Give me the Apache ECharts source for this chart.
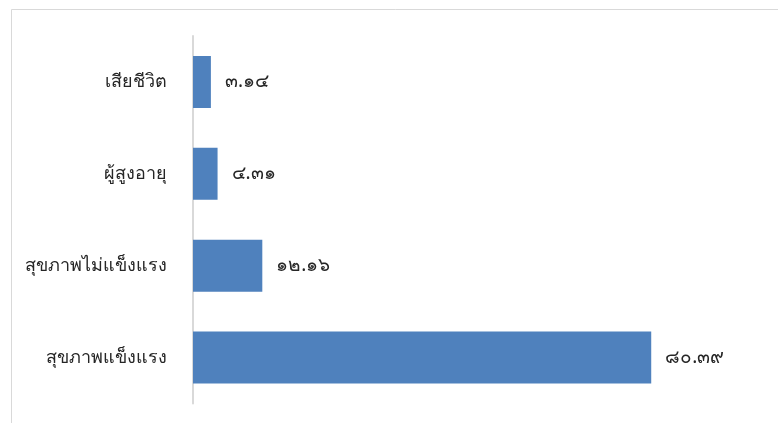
<!DOCTYPE html>
<html><head><meta charset="utf-8">
<script src="https://cdn.jsdelivr.net/npm/echarts@6/dist/echarts.min.js"></script>
<style>html,body{margin:0;padding:0;background:#fff}#c{width:778px;height:423px}</style>
</head><body><div id="c"></div>
<script>
const categories = ['เสียชีวิต', 'ผู้สูงอายุ', 'สุขภาพไม่แข็งแรง', 'สุขภาพแข็งแรง'];
const values = [3.14, 4.31, 12.16, 80.39];
const axisMax = 90;

const thaiDigits = ['๐','๑','๒','๓','๔','๕','๖','๗','๘','๙'];
function toThai(v){ return v.toFixed(2).replace(/[0-9]/g, d => thaiDigits[+d]); }

const chart = echarts.init(document.getElementById('c'));
chart.setOption({
  animation: false,
  backgroundColor: '#fff',
  textStyle: { fontFamily: 'Noto Sans, sans-serif' },
  graphic: [{
    type: 'rect', shape: { x: 11.5, y: 9.5, width: 800, height: 500 },
    style: { fill: 'none', stroke: '#d9d9d9', lineWidth: 1 }, silent: true
  }],
  grid: { left: 193, right: 72, top: 36, bottom: 19.5, containLabel: false },
  xAxis: {
    type: 'value', min: 0, max: axisMax,
    show: false, splitLine: { show: false }
  },
  yAxis: {
    type: 'category', data: categories, inverse: true,
    axisLine: { show: true, lineStyle: { color: '#d9d9d9', width: 2 } },
    axisTick: { show: false },
    axisLabel: { color: '#262626', fontSize: 18, margin: 26 }
  },
  series: [{
    type: 'bar', data: values, barWidth: 52,
    itemStyle: { color: '#4f81bd' },
    label: {
      show: true, position: 'right', distance: 14,
      color: '#262626', fontSize: 19,
      formatter: p => toThai(p.value)
    }
  }]
});
</script></body></html>
